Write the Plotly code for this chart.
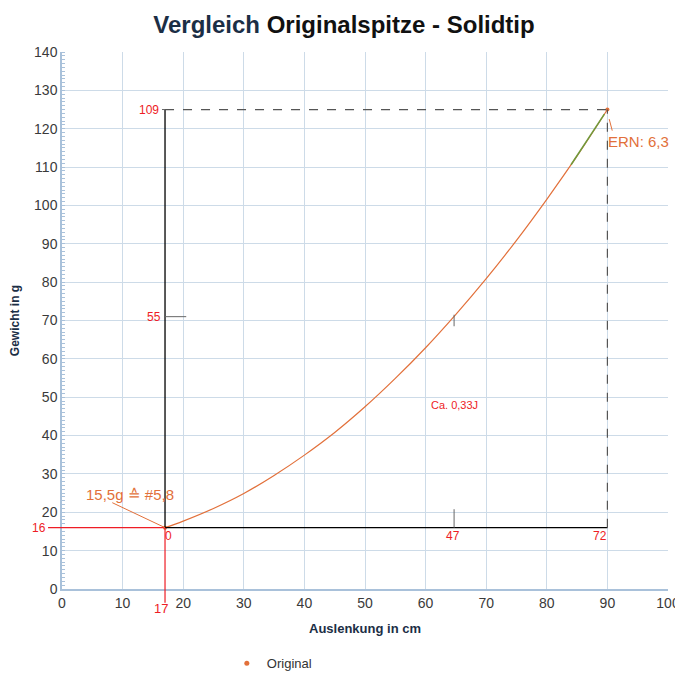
import plotly.graph_objs as go

auslenkung = [17, 20, 25, 30, 35, 40, 45, 50, 55, 60, 65, 70, 75, 80, 85, 90]
gewicht = [16, 17.7, 21, 24.9, 29.6, 34.9, 40.8, 47.5, 54.9, 62.9, 71.6, 80.9, 90.9, 101.6, 112.9, 125]
# gruen markiertes Stueck am Ende
gruen_x = [84, 86, 88, 89.5]
gruen_y = [110.6, 115.3, 120.2, 123.8]

x_ticks = [0, 10, 20, 30, 40, 50, 60, 70, 80, 90, 100]
y_ticks = [0, 10, 20, 30, 40, 50, 60, 70, 80, 90, 100, 110, 120, 130, 140]

x_range = [0, 100]
y_range = [0, 140]

orange = '#e2703a'
red = '#ee1c25'
font_main = 'Liberation Sans, Arial'


def px(x):
    return x / x_range[1]


def py(y):
    return y / y_range[1]


fig = go.Figure()

fig.add_trace(go.Scatter(
    x=auslenkung, y=gewicht, mode='lines',
    line=dict(color=orange, width=1.2, shape='spline'),
    showlegend=False, hoverinfo='skip'))
fig.add_trace(go.Scatter(
    x=gruen_x, y=gruen_y, mode='lines',
    line=dict(color='#6f9a3c', width=1.5),
    showlegend=False, hoverinfo='skip'))
fig.add_trace(go.Scatter(
    x=[auslenkung[0], auslenkung[-1]], y=[gewicht[0], gewicht[-1]], mode='markers',
    marker=dict(color=orange, size=4),
    showlegend=False, hoverinfo='skip'))
# nur fuer die Legende
fig.add_trace(go.Scatter(
    x=[None], y=[None], mode='markers', name='Original',
    marker=dict(color=orange, size=5)))

x0, y0 = auslenkung[0], gewicht[0]
x1, y1 = auslenkung[-1], gewicht[-1]
x_mid, y_mid = 64.7, 71

shapes = [
    # schwarze Linien
    dict(type='line', xref='paper', yref='paper', x0=px(x0), x1=px(x0), y0=py(y0), y1=py(y1),
         line=dict(color='black', width=1.3)),
    dict(type='line', xref='paper', yref='paper', x0=px(x0), x1=px(x1), y0=py(y0), y1=py(y0),
         line=dict(color='black', width=1.3)),
    # gestrichelt
    dict(type='line', xref='paper', yref='paper', x0=px(x0), x1=px(x1), y0=py(y1), y1=py(y1),
         line=dict(color='#555555', width=1.2, dash='dash')),
    dict(type='line', xref='paper', yref='paper', x0=px(x1), x1=px(x1), y0=py(y0), y1=py(y1),
         line=dict(color='#555555', width=1.2, dash='dash')),
    # rote Linien
    dict(type='line', xref='paper', yref='paper', x0=px(x0), x1=px(x0), y0=py(y0), y1=py(-3.6),
         line=dict(color=red, width=1.2)),
    dict(type='line', xref='paper', yref='paper', x0=px(-2.3), x1=px(x0), y0=py(y0), y1=py(y0),
         line=dict(color=red, width=1.2)),
    # kleine graue Markierungen
    dict(type='line', xref='paper', yref='paper', x0=px(x0 - 0.5), x1=px(x0), y0=py(y1), y1=py(y1),
         line=dict(color='#666666', width=1)),
    dict(type='line', xref='paper', yref='paper', x0=px(x0), x1=px(20.5), y0=py(71), y1=py(71),
         line=dict(color='#666666', width=1)),
    dict(type='line', xref='paper', yref='paper', x0=px(x_mid), x1=px(x_mid), y0=py(y0), y1=py(20.8),
         line=dict(color='#666666', width=1)),
    dict(type='line', xref='paper', yref='paper', x0=px(x_mid), x1=px(x_mid), y0=py(68.5), y1=py(71.5),
         line=dict(color='#666666', width=1)),
    # Hinweislinien
    dict(type='line', xref='paper', yref='paper', x0=px(8.3), x1=px(x0), y0=py(22.5), y1=py(y0),
         line=dict(color=orange, width=1)),
    dict(type='line', xref='paper', yref='paper', x0=px(90.3), x1=px(90.8), y0=py(122.5), y1=py(119.5),
         line=dict(color=orange, width=1)),
]


def label(x, y, text, color, size, xanchor='center', family=font_main):
    return dict(x=x, y=y, xref='paper', yref='paper', text=text, showarrow=False,
                xanchor=xanchor, yanchor='middle', font=dict(color=color, size=size, family=family))


annotations = [
    label(px(x0) - 0.006, py(y1), '109', red, 12, 'right'),
    label(px(x0) - 0.004, py(71), '55', red, 12, 'right'),
    label(px(-2.3), py(y0), '16', red, 12, 'right'),
    label(px(x0 - 0.7), py(-5.2), '17', red, 13),
    label(px(x0 + 0.6), py(y0 - 2.3), '0', red, 12),
    label(px(64.6), py(y0 - 2.3), '47', red, 12),
    label(px(88.7), py(y0 - 2.3), '72', red, 12),
    label(px(64.7), py(48.0), 'Ca. 0,33J', red, 11),
    label(px(3.7), py(24.6), '15,5g ≙ #5,8', orange, 15, 'left'),
    label(px(89.8), py(116.7), 'ERN: 6,3', orange, 15, 'left'),
]

# die Seite hat 8px Rand, daher etwas kleiner
fig.update_layout(
    width=672,
    height=668,
    title=dict(
        text='<span style="color:#1b2e45">Vergleich</span> Originalspitze - Solidtip',
        x=0.5, xanchor='center', y=0.975, yanchor='middle',
        font=dict(family=font_main, size=24, color='#111111', weight='bold')),
    xaxis=dict(
        range=x_range, tickvals=x_ticks, showgrid=True, gridcolor='#cddbe8', gridwidth=1,
        zeroline=False, showline=True, linecolor='#a9c1da', linewidth=1.5, automargin=False,
        ticks='', tickfont=dict(family=font_main, size=14, color='#3a3a3a'),
        title=dict(text='<b>Auslenkung in cm</b>', font=dict(family=font_main, size=13, color='#1b2e45'),
                   standoff=14)),
    yaxis=dict(
        range=y_range, tickvals=y_ticks, showgrid=True, gridcolor='#cddbe8', gridwidth=1,
        zeroline=False, showline=True, linecolor='#a9c1da', linewidth=1.5, automargin=False,
        ticks='', tickfont=dict(family=font_main, size=14, color='#3a3a3a'),
        minor=dict(dtick=1, ticks='inside', ticklen=3, tickcolor='#a9c1da', showgrid=False),
        title=dict(text='<b>Gewicht in g</b>', font=dict(family=font_main, size=12, color='#1b2e45'),
                   standoff=14)),
    legend=dict(orientation='h', x=0.272, xanchor='left', yref='container', y=0.019, yanchor='middle',
                font=dict(family=font_main, size=13, color='#333333')),
    shapes=shapes,
    annotations=annotations,
    plot_bgcolor='white',
    paper_bgcolor='white',
    margin=dict(l=54, r=12, t=44, b=87),
)

fig.write_html('out.html')
